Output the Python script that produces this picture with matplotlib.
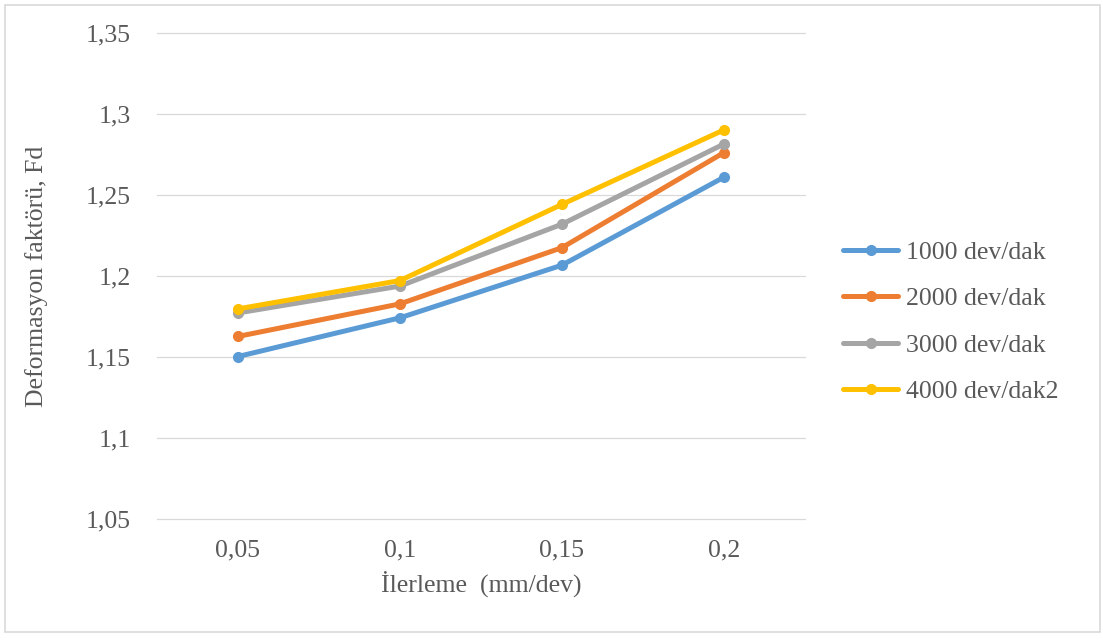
#!/usr/bin/env python3
# -*- coding: utf-8 -*-

from matplotlib import pyplot as plt
from matplotlib.patches import Rectangle

ilerleme = ['0,05', '0,1', '0,15', '0,2']
yticks = [1.05, 1.1, 1.15, 1.2, 1.25, 1.3, 1.35]

fd_1000 = [1.1503, 1.1742, 1.2067, 1.2610]
fd_2000 = [1.1627, 1.1828, 1.2175, 1.2762]
fd_3000 = [1.1772, 1.1938, 1.2320, 1.2815]
fd_4000 = [1.1797, 1.1972, 1.2442, 1.2902]

series = [
    ('1000 dev/dak', fd_1000, '#5B9BD5'),
    ('2000 dev/dak', fd_2000, '#ED7D31'),
    ('3000 dev/dak', fd_3000, '#A5A5A5'),
    ('4000 dev/dak2', fd_4000, '#FFC000'),
]

text_color = '#595959'
fs = 18.5

plt.rcParams['font.family'] = ['Liberation Serif', 'DejaVu Serif']

fig = plt.figure(figsize=(11.03, 6.41), dpi=100)
ax = fig.add_axes([157 / 1103, 1 - 519 / 641, 648 / 1103, 486 / 641])

xs = list(range(len(ilerleme)))
for name, vals, col in series:
    ax.plot(xs, vals, color=col, lw=3.6, marker='o', ms=7,
            solid_capstyle='round', label=name)

ax.set_xlim(-0.5, len(ilerleme) - 0.5)
ax.set_ylim(1.05, 1.35)
ax.set_xticks(xs)
ax.set_xticklabels(ilerleme)
ax.set_yticks(yticks)
ax.set_yticklabels([('%g' % v).replace('.', ',') for v in yticks])
ax.grid(axis='y', color='#D9D9D9', lw=0.9)
for gl in ax.yaxis.get_gridlines():
    gl.set_clip_on(False)
ax.set_axisbelow(True)
for s in ax.spines.values():
    s.set_visible(False)
ax.tick_params(length=0, labelsize=fs, labelcolor=text_color)
ax.tick_params(axis='y', pad=19)
ax.tick_params(axis='x', pad=15)

ax.set_xlabel('İlerleme  (mm/dev)', fontsize=fs, color=text_color, labelpad=6)
ax.set_ylabel('Deformasyon faktörü, Fd', fontsize=fs, color=text_color)
ax.yaxis.set_label_coords(-0.168, 0.5)

leg = fig.legend(loc='center left', bbox_to_anchor=(843 / 1103, 1 - 322 / 641),
                 frameon=False, fontsize=fs, handlelength=2.15,
                 handletextpad=0.3, labelspacing=0.9, borderpad=0,
                 borderaxespad=0)
for t in leg.get_texts():
    t.set_color(text_color)

fig.patches.append(Rectangle((5 / 1103, 1 - 632 / 641), 1095 / 1103, 627 / 641,
                             transform=fig.transFigure, fill=False,
                             edgecolor='#D9D9D9', lw=1.2))

fig.savefig('out.png', dpi=100)
